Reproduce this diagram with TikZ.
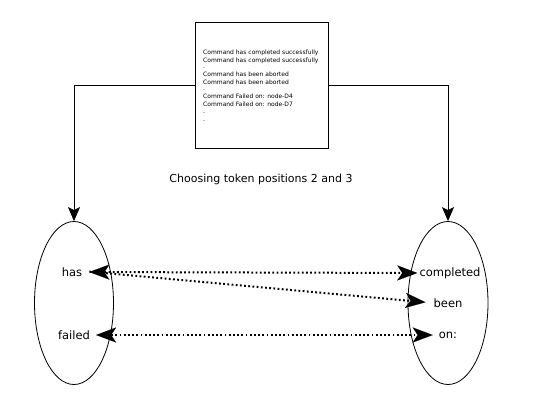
\documentclass[tikz,border=0pt]{standalone}
\usepackage{fontspec}
\setmainfont{DejaVu Sans}
\usetikzlibrary{arrows.meta,shapes.geometric}
\begin{document}
\begin{tikzpicture}[x=1pt,y=-1pt,
  lab/.style={font=\fontsize{11.5}{13}\selectfont, inner sep=0pt},
  solidarrow/.style={line width=0.8pt, -{Stealth[length=14pt,width=12pt,inset=3pt]}},
  bigtip/.tip={Stealth[length=20pt,width=15pt,inset=5pt,line width=0.01pt]},
  dotarrow/.style={line width=2pt, dash pattern=on 1.8pt off 2.4pt, bigtip-bigtip},
  onearrow/.style={line width=2pt, dash pattern=on 1.8pt off 2.4pt, -bigtip},
  set/.style={draw, line width=0.8pt, ellipse, minimum width=79pt, minimum height=163pt, inner sep=0pt}]
\useasboundingbox (0,0) rectangle (537,406);
\node[draw, line width=0.9pt, minimum width=133pt, minimum height=126pt, inner sep=0pt] (box) at (261.5,85) {};
\node[anchor=north west, inner sep=0pt, align=left, font=\fontsize{6}{8}\selectfont] (txt) at (203,50)
 {Command has completed successfully\\
  Command has completed successfully\\[-2pt]
  .\\
  Command has been aborted\\
  Command has been aborted\\[-2pt]
  .\\
  Command Failed on: node-D4\\
  Command Failed on: node-D7\\[-1pt]
  .\\
  .};
\node[font=\fontsize{11}{13}\selectfont, inner sep=0pt] (title) at (261,179) {Choosing token positions 2 and 3};
\node[set] (lset) at (74,303) {};
\node[set, minimum width=80pt] (rset) at (448,303) {};
\draw[solidarrow] (box.west) -| (lset.north);
\draw[solidarrow] (box.east) -| (rset.north);
\node[lab] (has) at (72,272) {has};
\node[lab] (failed) at (74,335) {failed};
\node[lab] (completed) at (450,273) {completed};
\node[lab] (been) at (448,303) {been};
\node[lab] (on) at (448,335) {on:};
\draw[dotarrow, shorten <=7pt, shorten >=2pt] (has.east) -- (completed.west);
\draw[onearrow, shorten <=7pt, shorten >=8pt] ([yshift=1pt]has.east) -- (been.west);
\draw[dotarrow, shorten <=6pt, shorten >=6pt] (failed.east) -- (on.west);
\end{tikzpicture}
\end{document}
